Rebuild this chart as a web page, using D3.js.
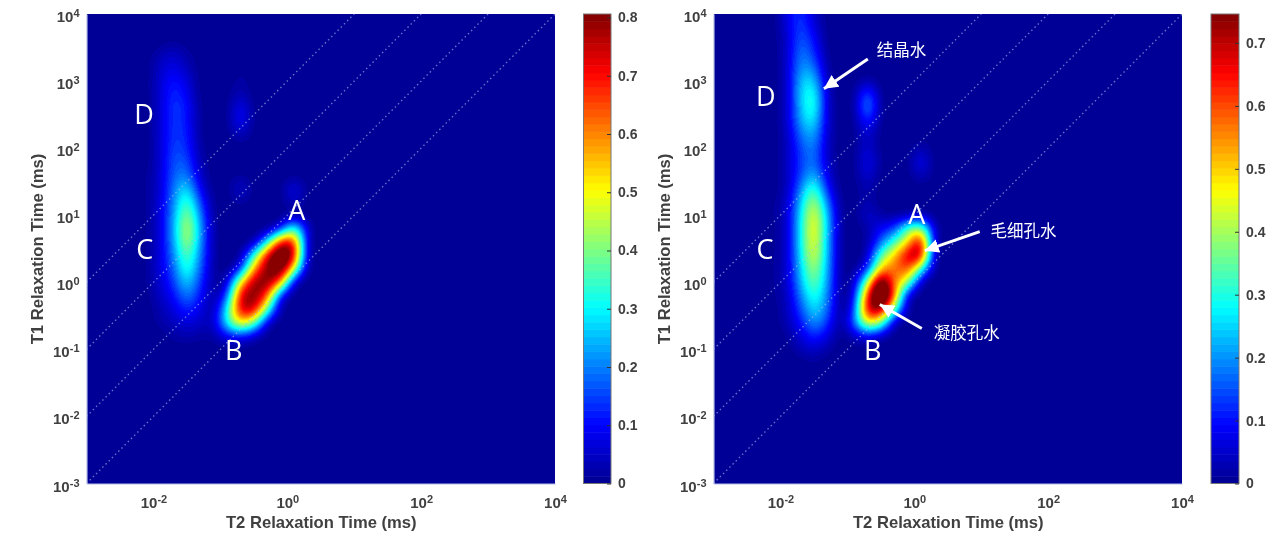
<!DOCTYPE html>
<meta charset="utf-8">
<style>
html, body { margin: 0; background: #fff; overflow: hidden; }
#heat, #over { position: absolute; left: 0; top: 0; }
text { font-family: "Liberation Sans", Arial, sans-serif; }
.tick text, .title { font-weight: bold; fill: #404040; }
.letter { font-family: "Open Sans", "Noto Sans", sans-serif; fill: #fff; font-size: 27px; text-anchor: middle; }
.note { font-family: "Noto Sans CJK SC", sans-serif; fill: #fff; font-size: 16.5px; }
</style>
<canvas id="heat" width="1284" height="544"></canvas>
<svg id="over" width="1284" height="544"></svg>
<script src="https://cdnjs.cloudflare.com/ajax/libs/d3/7.8.5/d3.min.js"></script>
<script>

// log10 of T2 (columns) and T1 (rows) for the cells, everything else is 0
var t2Logs = [-2.3,-2.1,-1.9,-1.7,-1.5,-1.3,-1.1,-0.9,-0.7,-0.5,-0.3,-0.1,0.1,0.3,0.5,0.7]
var t1Logs = [4,3.8,3.6,3.4,3.2,3,2.8,2.6,2.4,2.2,2,1.8,1.6,1.4,1.2,1,0.8,0.6,0.4,0.2,0,-0.2,-0.4,-0.6,-0.8,-1,-1.2,-1.4]

var leftCells = [
[0,0,0,0,0,0,0,0,0,0,0,0,0,0,0,0],
[0,0,0,0,0,0,0,0,0,0,0,0,0,0,0,0],
[0,0,0,.01,0,0,0,0,0,0,0,0,0,0,0,0],
[0,0,.03,.05,.02,0,0,0,0,0,0,0,0,0,0,0],
[0,0,.05,.08,.04,0,0,0,.01,0,0,0,0,0,0,0],
[0,0,.06,.11,.07,0,0,0,.02,0,0,0,0,0,0,0],
[0,0,.06,.13,.09,0,0,0,.04,0,0,0,0,0,0,0],
[0,0,.06,.14,.11,.01,0,0,.09,0,0,0,0,0,0,0],
[0,0,.06,.14,.11,.01,0,0,.10,0,0,0,0,0,0,0],
[0,0,.06,.14,.12,.01,0,0,.04,0,0,0,0,0,0,0],
[0,0,.06,.15,.13,.02,0,0,0,0,0,0,0,0,0,0],
[0,0,.06,.16,.16,.03,0,0,0,0,0,0,0,0,0,0],
[0,.01,.06,.17,.20,.05,0,0,.01,0,0,0,0,0,0,0],
[0,.01,.06,.19,.28,.09,0,0,.06,0,0,0,.08,0,0,0],
[0,.01,.07,.20,.36,.15,.01,0,.02,0,0,0,.05,0,0,0],
[0,.01,.07,.22,.42,.20,.01,0,0,0,0,0,.02,0,0,0],
[0,.01,.07,.23,.46,.23,.02,0,0,0,0,.12,.36,.05,0,0],
[0,.01,.07,.22,.44,.22,.02,0,0,.03,.30,.70,.68,.05,0,0],
[0,.01,.07,.20,.38,.20,.02,0,.01,.33,.72,.92,.74,.03,0,0],
[0,.01,.07,.17,.34,.17,.02,0,.13,.58,.80,.86,.48,0,0,0],
[0,.01,.06,.14,.27,.14,.02,.05,.50,.78,.80,.60,.06,0,0,0],
[0,0,.05,.10,.20,.11,.02,.16,.72,.80,.64,.12,0,0,0,0],
[0,0,.03,.07,.13,.08,.03,.30,.72,.74,.38,.02,0,0,0,0],
[0,0,.02,.04,.07,.05,.05,.30,.52,.40,.07,0,0,0,0,0],
[0,0,0,.02,.03,.02,.02,.09,.12,.06,0,0,0,0,0,0],
[0,0,0,0,0,0,0,0,0,0,0,0,0,0,0,0],
[0,0,0,0,0,0,0,0,0,0,0,0,0,0,0,0],
[0,0,0,0,0,0,0,0,0,0,0,0,0,0,0,0]
]

var rightCells = [
[0,0,.07,.13,.05,0,0,0,0,0,0,0,0,0,0,0],
[0,0,.06,.14,.07,0,0,0,0,0,0,0,0,0,0,0],
[0,0,.05,.16,.10,0,0,0,0,0,0,0,0,0,0,0],
[0,0,.05,.18,.13,.01,0,0,0,0,0,0,0,0,0,0],
[0,0,.05,.20,.18,.02,0,0,0,0,0,0,0,0,0,0],
[0,0,.05,.23,.25,.03,0,0,.03,0,0,0,0,0,0,0],
[0,0,.05,.24,.30,.05,0,0,.16,0,0,0,0,0,0,0],
[0,0,.05,.23,.31,.05,0,0,.20,0,0,0,0,0,0,0],
[0,0,.05,.21,.27,.05,0,0,.12,0,0,0,0,0,0,0],
[0,0,.04,.17,.22,.05,0,0,.06,0,0,0,0,0,0,0],
[0,0,.04,.14,.19,.04,0,0,.06,0,0,0,.03,0,0,0],
[0,0,.04,.13,.18,.05,0,0,.08,.01,0,0,.08,0,0,0],
[0,0,.04,.14,.23,.07,0,0,.06,0,0,0,.04,0,0,0],
[0,0,.04,.18,.33,.11,0,0,.03,0,0,0,0,0,0,0],
[0,.01,.05,.23,.41,.18,.01,0,.03,0,0,0,0,0,0,0],
[0,.01,.05,.26,.46,.23,.01,0,.05,.02,.01,.03,.04,0,0,0],
[0,.01,.05,.27,.48,.24,.01,0,.02,.09,.14,.33,.40,.04,0,0],
[0,.01,.05,.27,.47,.23,.01,0,.02,.17,.32,.48,.68,.05,0,0],
[0,.01,.05,.26,.45,.23,.01,0,.04,.34,.50,.68,.70,.02,0,0],
[0,.01,.05,.24,.40,.22,.01,.01,.12,.52,.56,.60,.32,0,0,0],
[0,.01,.05,.22,.36,.21,.01,.04,.40,.84,.56,.40,.03,0,0,0],
[0,.01,.04,.18,.31,.19,.01,.08,.62,.92,.58,.07,0,0,0,0],
[0,0,.04,.14,.26,.17,.01,.12,.68,.72,.36,.02,0,0,0,0],
[0,0,.03,.10,.20,.13,.01,.16,.46,.38,.04,0,0,0,0,0],
[0,0,.01,.06,.12,.07,0,.04,.09,.04,0,0,0,0,0,0],
[0,0,0,.03,.05,.02,0,0,0,0,0,0,0,0,0,0],
[0,0,0,0,.01,0,0,0,0,0,0,0,0,0,0,0],
[0,0,0,0,0,0,0,0,0,0,0,0,0,0,0,0]
]

var axisExtent = [1e-3, 1e4]
var xTicks = [1e-2, 1, 1e2, 1e4]
var yTicks = [1e-3, 1e-2, 1e-1, 1, 1e1, 1e2, 1e3, 1e4]
var ratioLines = [1, 10, 100, 1000]
var leftBarMax = 0.806, leftBarTicks = [0,.1,.2,.3,.4,.5,.6,.7,.8]
var rightBarMax = 0.746, rightBarTicks = [0,.1,.2,.3,.4,.5,.6,.7]

var leftLetters = [["A",0.142,1.07],["B",-0.8,-1.02],["C",-2.13,0.49],["D",-2.14,2.51]]
var rightLetters = [["A",0.037,1.01],["B",-0.62,-1.02],["C",-2.23,0.49],["D",-2.22,2.77]]
// text, text x, text y, arrow tail x, y, arrow tip x, y (all log10)
var rightNotes = [
	["结晶水",-0.56,3.38,-0.694,3.33,-1.35,2.885],
	["毛细孔水",1.14,0.68,0.978,0.756,0.157,0.472],
	["凝胶孔水",0.29,-0.84,0.112,-0.69,-0.515,-0.332]
]

var jetStops = [[0,"#00008f"],[.125,"#0000ff"],[.375,"#00ffff"],[.625,"#ffff00"],[.875,"#ff0000"],[1,"#800000"]]
var jet = d3.scaleLinear().domain(jetStops.map(d => d[0])).range(jetStops.map(d => d[1])).interpolate(d3.interpolateRgb)
var levels = d3.range(64).map(i => jet((i + .5) / 64))

var svg = d3.select("#over")
var ctx = document.getElementById("heat").getContext("2d")

// catmull-rom between the read cells, like shading interp
function cubic(a, b, c, d, t) {
	return b + .5 * t * (c - a + t * (2 * a - 5 * b + 4 * c - d + t * (3 * (b - c) + d - a)))
}
function cellAt(cells, r, c) {
	if (c < 0 || c >= t2Logs.length || r >= t1Logs.length) return 0
	return cells[Math.max(r, 0)][c]
}
function sample(cells, lx, ly) {
	var fc = (lx - t2Logs[0]) / 0.2, fr = (t1Logs[0] - ly) / 0.2
	var c0 = Math.floor(fc), r0 = Math.floor(fr), tc = fc - c0, tr = fr - r0
	var col = []
	for (var i = -1; i < 3; i++) {
		col.push(cubic(cellAt(cells, r0 + i, c0 - 1), cellAt(cells, r0 + i, c0), cellAt(cells, r0 + i, c0 + 1), cellAt(cells, r0 + i, c0 + 2), tc))
	}
	return Math.max(0, cubic(col[0], col[1], col[2], col[3], tr))
}

function sup(sel) {
	sel.each(function(d) {
		var t = d3.select(this)
		t.text("10").append("tspan").attr("dy", "-0.45em").style("font-size", "11px").text(Math.round(Math.log10(d)))
	})
}

function drawPanel(left, right, barLeft, barRight, cells, barMax, barTicks, letters, notes) {
	var top = 14, bottom = 483.5
	var x = d3.scaleLog().domain(axisExtent).range([left, right])
	var y = d3.scaleLog().domain(axisExtent).range([bottom, top])
	var colour = d3.scaleQuantize().domain([0, barMax]).range(levels)

	// heat surface, sampled per pixel then softened so the coarse cells do not show.
	// Extra rows above the frame keep the band running off the top edge
	var x0 = Math.round(left), w = Math.floor(right - left), h = Math.round(bottom - top), pad = 20
	var field = new Float64Array(w * (h + pad))
	for (var j = 0; j < h + pad; j++) {
		var ly = Math.log10(y.invert(top - pad + j + .5))
		for (var i = 0; i < w; i++) {
			field[j * w + i] = sample(cells, Math.log10(x.invert(x0 + i + .5)), ly)
		}
	}
	d3.blur2({data: field, width: w, height: h + pad}, 5)
	for (j = 0; j < h; j++) {
		for (i = 0; i < w; i++) {
			ctx.fillStyle = colour(Math.min(barMax, field[(j + pad) * w + i]))
			ctx.fillRect(x0 + i, top + j, 1, 1)
		}
	}

	var g = svg.append("g")
	g.selectAll(".ratio").data(ratioLines).enter().append("line").attr("class", "ratio")
		.attr("x1", x(1e-3)).attr("y1", d => y(1e-3 * d))
		.attr("x2", d => x(1e4 / d)).attr("y2", y(1e4))
		.attr("stroke", "#9fc0f0").attr("stroke-opacity", .6).attr("stroke-width", 1.4).attr("stroke-dasharray", "1.5 3")

	var xAxis = g.append("g").attr("transform", "translate(0," + bottom + ")")
		.call(d3.axisBottom(x).tickValues(xTicks).tickSize(0).tickPadding(14))
	xAxis.selectAll("text").style("font-size", "15px").call(sup)
	var yAxis = g.append("g").attr("transform", "translate(" + left + ",0)")
		.call(d3.axisLeft(y).tickValues(yTicks).tickSize(0).tickPadding(7))
	yAxis.selectAll("text").style("font-size", "15px").attr("dy", "0.5em").call(sup)
	g.selectAll(".domain").attr("stroke", "#b4bce4").attr("stroke-width", 1.2)

	g.append("text").attr("class", "title").attr("text-anchor", "middle").style("font-size", "16.6px")
		.attr("x", (left + right) / 2 + 0.5).attr("y", 528).text("T2 Relaxation Time (ms)")
	g.append("text").attr("class", "title").attr("text-anchor", "middle").style("font-size", "16.6px")
		.attr("transform", "translate(" + (left - 43.5) + ",249) rotate(-90)").text("T1 Relaxation Time (ms)")

	// colour bar
	var bar = d3.scaleLinear().domain([0, barMax]).range([bottom, top])
	g.selectAll(".level").data(levels).enter().append("rect").attr("class", "level")
		.attr("x", barLeft).attr("width", barRight - barLeft)
		.attr("y", (d, i) => bar((i + 1) / 64 * barMax))
		.attr("height", (d, i) => bar(i / 64 * barMax) - bar((i + 1) / 64 * barMax) + .5)
		.attr("fill", d => d)
	g.append("rect").attr("x", barLeft).attr("y", top).attr("width", barRight - barLeft).attr("height", bottom - top)
		.attr("fill", "none").attr("stroke", "#777")
	var barAxis = g.append("g").attr("transform", "translate(" + barRight + ",0)")
		.call(d3.axisRight(bar).tickValues(barTicks).tickFormat(d3.format("~g")).tickSize(-4).tickPadding(7))
	barAxis.select(".domain").remove()
	barAxis.selectAll("line").attr("stroke", "#333")
	barAxis.selectAll("text").style("font-size", "14px")

	var lx10 = d => x(Math.pow(10, d)), ly10 = d => y(Math.pow(10, d))
	g.selectAll(".letter").data(letters).enter().append("text").attr("class", "letter")
		.attr("x", d => lx10(d[1])).attr("y", d => ly10(d[2])).attr("dy", "0.36em").text(d => d[0])

	g.selectAll(".noteline").data(notes).enter().append("line").attr("class", "noteline")
		.attr("x1", d => lx10(d[3])).attr("y1", d => ly10(d[4]))
		.attr("x2", d => lx10(d[5])).attr("y2", d => ly10(d[6]))
		.attr("stroke", "#fff").attr("stroke-width", 3).attr("marker-end", "url(#head)")
	g.selectAll(".note").data(notes).enter().append("text").attr("class", "note")
		.attr("x", d => lx10(d[1])).attr("y", d => ly10(d[2])).text(d => d[0])
}

svg.append("defs").append("marker").attr("id", "head").attr("viewBox", "0 0 10 10")
	.attr("refX", 10).attr("refY", 5).attr("markerUnits", "userSpaceOnUse")
	.attr("markerWidth", 14).attr("markerHeight", 14).attr("orient", "auto")
	.append("path").attr("d", "M0,0L10,5L0,10Z").attr("fill", "#fff")

drawPanel(86.5, 555, 583.5, 611, leftCells, leftBarMax, leftBarTicks, leftLetters, [])
drawPanel(713.5, 1182, 1211, 1239, rightCells, rightBarMax, rightBarTicks, rightLetters, rightNotes)

</script>
